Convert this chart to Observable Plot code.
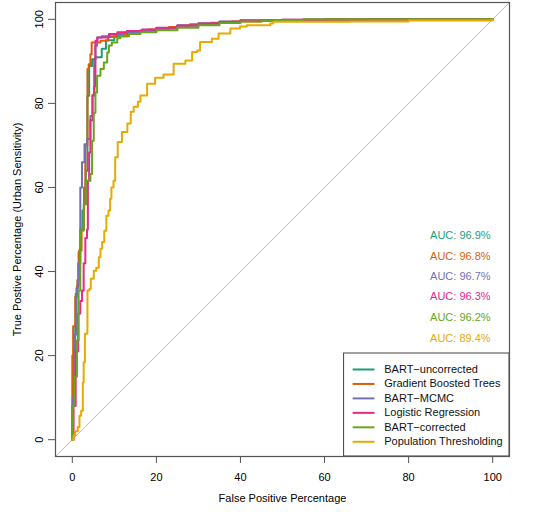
<!DOCTYPE html>
<html><head><meta charset="utf-8">
<script src="https://cdn.jsdelivr.net/npm/d3@7"></script>
<script src="https://cdn.jsdelivr.net/npm/@observablehq/plot@0.6"></script>
<style>body{margin:0;background:#fff}</style>
</head><body><div id="chart"></div>
<script>
const seriesNames = ["BART\u2212uncorrected","Gradient Boosted Trees","BART\u2212MCMC","Logistic Regression","BART\u2212corrected","Population Thresholding"];
const seriesColors = ["#1B9E77","#D95F02","#7570B3","#E7298A","#66A61E","#E6AB02"];
const aucLabels = ["AUC: 96.9%","AUC: 96.8%","AUC: 96.7%","AUC: 96.3%","AUC: 96.2%","AUC: 89.4%"];
const xTicks = [0,20,40,60,80,100];
const yTicks = [0,20,40,60,80,100];
const axisDomain = [-4,104];

// BART-uncorrected
const fprBartUnc = [0,0,0.3,0.7,0.8,1.1,1.5,1.9,2.4,2.8,3.2,3.6,4.0,4.7,5.5,7.0,8.0,10,13,16,20,25,30,35,40,45,55,70,100];
const tprBartUnc = [0,8,15,26.7,34.7,36.6,44.6,50,54.5,60,64,81.8,88.9,90.5,91,93,95,96,96.7,97.3,97.9,98.5,99,99.4,99.7,99.8,99.9,100,100];
// Gradient Boosted Trees
const fprGbt = [0,0,0.2,0.7,1.2,1.6,2.2,2.8,3.1,3.6,3.9,4.3,4.6,6.7,8.5,10.6,14,18,23,28,33,38,45,55,100];
const tprGbt = [0,20,27,34,38,45,50,56,70,88.2,89.3,91.7,94.5,94.9,95.8,96.5,97,97.6,98.2,98.8,99.2,99.5,99.8,99.9,100];
// BART-MCMC
const fprMcmc = [0,0.1,0.4,0.6,1.0,1.4,1.9,2.3,2.9,3.5,4.3,4.8,5.2,5.5,5.9,7,9,12,16,20,25,30,35,40,50,60,100];
const tprMcmc = [0,10,20,25,36,42,60,66,70.3,71.5,77,81.8,90.5,93.7,95.7,96,96.3,96.8,97.3,97.9,98.5,99,99.4,99.7,99.9,100,100];
// Logistic Regression
const fprLr = [0,0.3,0.8,1.4,1.9,2.3,2.7,3.1,3.5,3.7,4.0,4.3,4.8,5.2,5.5,5.5,6.0,8.7,10.7,13,16.6,20,25,30,35,40,50,60,100];
const tprLr = [0,8,21,30,33,35.5,42,48,50,61.6,68.3,76,82,84,87.4,94.9,95.7,96.5,96.9,97.2,97.6,98,98.5,99,99.4,99.7,99.9,100,100];
// BART-corrected
const fprBartCor = [0,0.1,0.5,1.1,1.5,1.9,2.7,3.3,4.3,4.7,5.1,5.5,5.9,6.7,7.5,8.3,8.7,9.4,10.7,11.4,13.5,16.2,20,25,30,35,40,45,55,100];
const tprBartCor = [0,8,15,23.6,35.5,49.7,56,61.6,63.2,71.1,77.8,82.6,86.6,88.2,89.7,92.1,93.8,94.5,95.5,96,96.5,96.9,97.4,98,98.6,99.1,99.5,99.8,100,100];
// Population Thresholding
const fprPop = [0,0.3,0.7,1.3,1.7,2.1,2.5,2.7,3.0,3.5,3.6,4.1,4.4,5.1,5.7,6.3,6.7,7.1,7.6,8.1,8.6,9.0,9.3,9.8,10.2,10.8,11.8,13.1,13.9,14.6,15.6,16.2,17.8,19.7,21.7,24.1,26.9,28.5,29.7,30.4,33.2,34.8,37.6,39.9,41.5,47.1,47.8,66,80,100];
const tprPop = [0,1,2,3,5.7,6.9,13.6,18.4,25.2,25.5,35.5,35.9,38.3,40.2,40.9,43.4,45.4,47,49.7,53.3,54.5,57.3,60,61.6,67.2,70.8,73.2,75.2,78,79.2,80.4,81.9,84.7,86.1,86.9,89.4,90.2,92.2,92.6,94.6,95.4,96.6,97.8,98.3,98.6,99,99.4,99.5,99.7,100];

const fprs = [fprBartUnc,fprGbt,fprMcmc,fprLr,fprBartCor,fprPop];
const tprs = [tprBartUnc,tprGbt,tprMcmc,tprLr,tprBartCor,tprPop];

// annotation placement (data units)
const aucX = 92.3;
const aucY = [48.5,43.7,38.9,34.0,29.0,24.1];
const legendBox = {x1: 64.65, x2: 104, y1: -4, y2: 20.5};
const legendRowY = [16.7,13.26,9.82,6.38,2.94,-0.5];
const legendLineX = [66.8,72.0];
const legendTextX = 74.2;

const rows = [];
seriesNames.forEach((s,i)=>fprs[i].forEach((f,j)=>rows.push({series:s, fpr:f, tpr:tprs[i][j]})));
const aucRows = seriesNames.map((s,i)=>({series:s, label:aucLabels[i], y:aucY[i]}));
const legRows = seriesNames.map((s,i)=>({series:s, y:legendRowY[i]}));

const chart = Plot.plot({
  width: 538, height: 512,
  marginLeft: 55, marginRight: 29, marginTop: 2, marginBottom: 56,
  x: {domain: axisDomain},
  y: {domain: axisDomain},
  color: {domain: seriesNames, range: seriesColors},
  style: {fontFamily: "'Liberation Sans', Arial, Helvetica, sans-serif", fontSize: "11px", background: "white", color: "#000"},
  marks: [
    Plot.line(axisDomain, {x: d=>d, y: d=>d, stroke: "#bdbdbd", strokeWidth: 1}),
    Plot.line(rows, {x: "fpr", y: "tpr", z: "series", stroke: "series", curve: "step-after", strokeWidth: 2}),
    Plot.text(aucRows, {x: aucX, y: "y", text: "label", fill: "series", textAnchor: "middle", lineAnchor: "middle", fontSize: 11}),
    Plot.rect([legendBox], {x1: "x1", x2: "x2", y1: "y1", y2: "y2", fill: "white", stroke: "#444", strokeWidth: 1}),
    Plot.ruleY(legRows, {y: "y", x1: legendLineX[0], x2: legendLineX[1], stroke: "series", strokeWidth: 2}),
    Plot.text(legRows, {x: legendTextX, y: "y", text: "series", textAnchor: "start", lineAnchor: "middle", fill: "#111", fontSize: 11}),
    Plot.frame({stroke: "#555", strokeWidth: 1.2}),
    Plot.axisX({ticks: xTicks, tickSize: 7, tickPadding: 10, stroke: "#555", label: "False Positive Percentage", labelAnchor: "center", labelArrow: "none", labelOffset: 45}),
    Plot.axisY({ticks: yTicks, tickSize: 7, tickPadding: 6, tickRotate: -90, stroke: "#555", label: "True Postive Percentage (Urban Sensitivity)", labelAnchor: "center", labelArrow: "none", labelOffset: 42})
  ]
});
document.getElementById("chart").appendChild(chart);
</script>
</body></html>
